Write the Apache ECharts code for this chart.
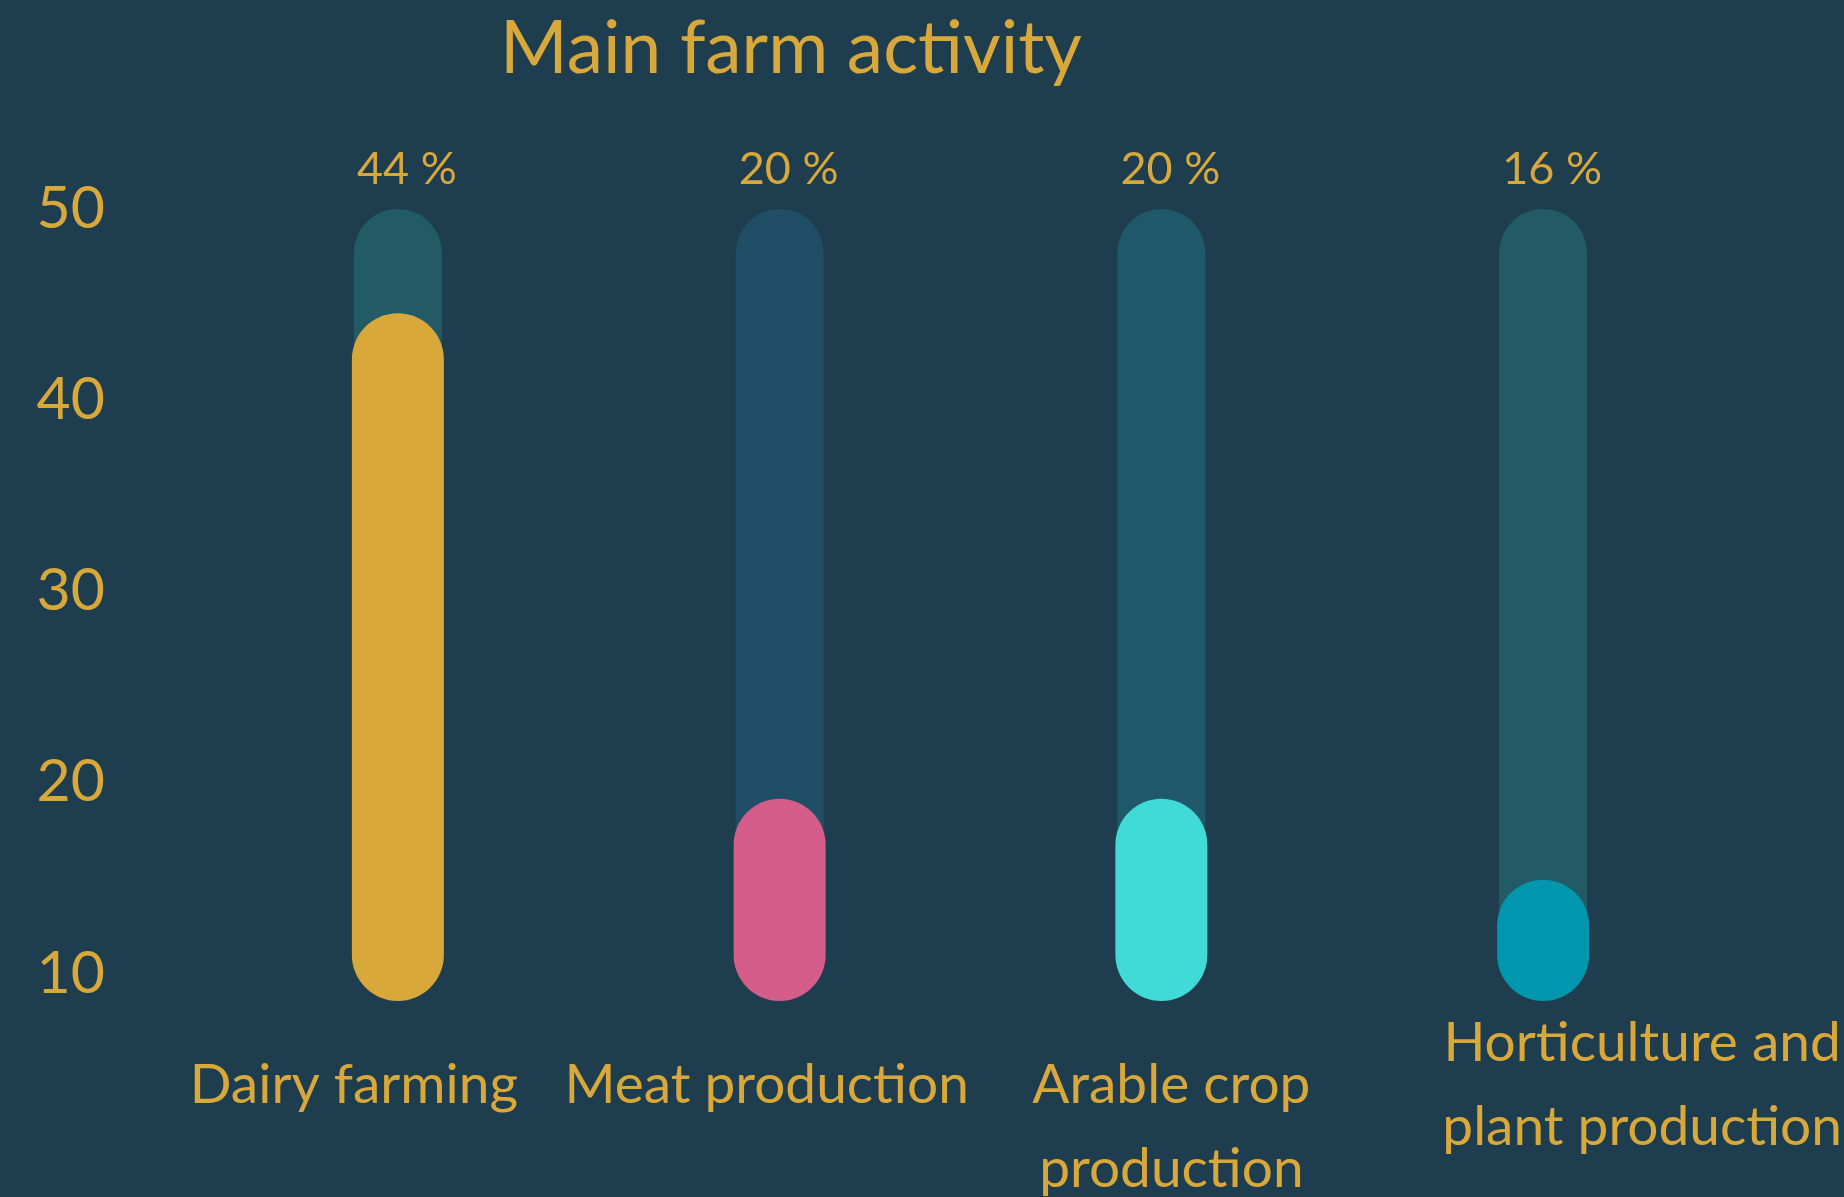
<!DOCTYPE html>
<html>
<head>
<meta charset="utf-8">
<title>Main farm activity</title>
<script src="https://cdn.jsdelivr.net/npm/echarts@6/dist/echarts.min.js"></script>
<style>
  html, body { margin: 0; padding: 0; background: #1e3d4e; }
  #chart { width: 1844px; height: 1197px; }
</style>
</head>
<body>
<div id="chart"></div>
<script>
// Share of farms by main activity (%)
const categories = ['Dairy farming', 'Meat production', 'Arable crop\nproduction', 'Horticulture and\nplant production'];
const shareValues = [44, 20, 20, 16];
const trackValues = [50, 50, 50, 50];
const yTicks = [10, 20, 30, 40, 50];

const GOLD = '#d8a83b';
const FONT = 'Lato, "Open Sans", sans-serif';
const barColors = ['#d8a83b', '#d45d89', '#40dbd6', '#0097ae'];
const trackColors = ['#225b66', '#1f4e66', '#1f5869', '#225b66'];
const LABEL_LINE = 84;

// per-label nudges for the category names under each column
const labelStyles = [
  { padding: [0, 88, 0, 0], lineHeight: LABEL_LINE },
  { padding: [0, 26, 0, 0], lineHeight: LABEL_LINE },
  { padding: [0, 0, 0, 20], lineHeight: LABEL_LINE },
  { padding: [-42, 0, 0, 198], lineHeight: LABEL_LINE }
];

const titleText = 'Main farm activity';
const titleSize = 73;
const ctx = document.createElement('canvas').getContext('2d');
ctx.font = titleSize + 'px ' + FONT;
const titleWidth = ctx.measureText(titleText).width;

const chart = echarts.init(document.getElementById('chart'), null, { renderer: 'canvas' });

chart.setOption({
  backgroundColor: '#1e3d4e',
  animation: false,
  title: {
    text: titleText,
    left: Math.round(786 - titleWidth / 2),
    top: 8,
    textStyle: { color: GOLD, fontFamily: FONT, fontSize: titleSize, fontWeight: 'normal' }
  },
  grid: [
    { left: 207, right: 110, top: 209, bottom: 223.5, outerBoundsMode: 'none', containLabel: false },
    { left: 207, right: 110, top: 192, bottom: 196, outerBoundsMode: 'none', containLabel: false }
  ],
  xAxis: [
    {
      type: 'category', gridIndex: 0,
      data: categories.map((c, i) => ({ value: c, textStyle: labelStyles[i] })),
      axisLine: { show: false }, axisTick: { show: false },
      axisLabel: {
        interval: 0, hideOverlap: false, margin: 70,
        color: GOLD, fontFamily: FONT, fontSize: 55, lineHeight: LABEL_LINE
      }
    },
    {
      type: 'category', gridIndex: 1, data: categories, show: false
    }
  ],
  yAxis: [
    {
      type: 'value', gridIndex: 0, min: yTicks[0], max: yTicks[yTicks.length - 1], interval: 10,
      axisLine: { show: false }, axisTick: { show: false }, splitLine: { show: false },
      axisLabel: { color: GOLD, fontFamily: FONT, fontSize: 59, margin: 102 }
    },
    {
      type: 'value', gridIndex: 1, min: yTicks[0], max: yTicks[yTicks.length - 1], show: false
    }
  ],
  series: [
    {
      name: 'track', type: 'bar', xAxisIndex: 0, yAxisIndex: 0,
      barWidth: 88,
      data: trackValues.map((v, i) => ({ value: v, itemStyle: { color: trackColors[i] } })),
      itemStyle: { borderRadius: 44 },
      label: {
        show: true, position: 'top', distance: 17, offset: [9, 0],
        color: GOLD, fontFamily: FONT, fontSize: 45,
        formatter: p => shareValues[p.dataIndex] + ' %'
      },
      silent: true
    },
    {
      name: 'share', type: 'bar', xAxisIndex: 1, yAxisIndex: 1,
      barWidth: 92,
      data: shareValues.map((v, i) => ({ value: v, itemStyle: { color: barColors[i] } })),
      itemStyle: { borderRadius: 46 }
    }
  ]
});
</script>
</body>
</html>
